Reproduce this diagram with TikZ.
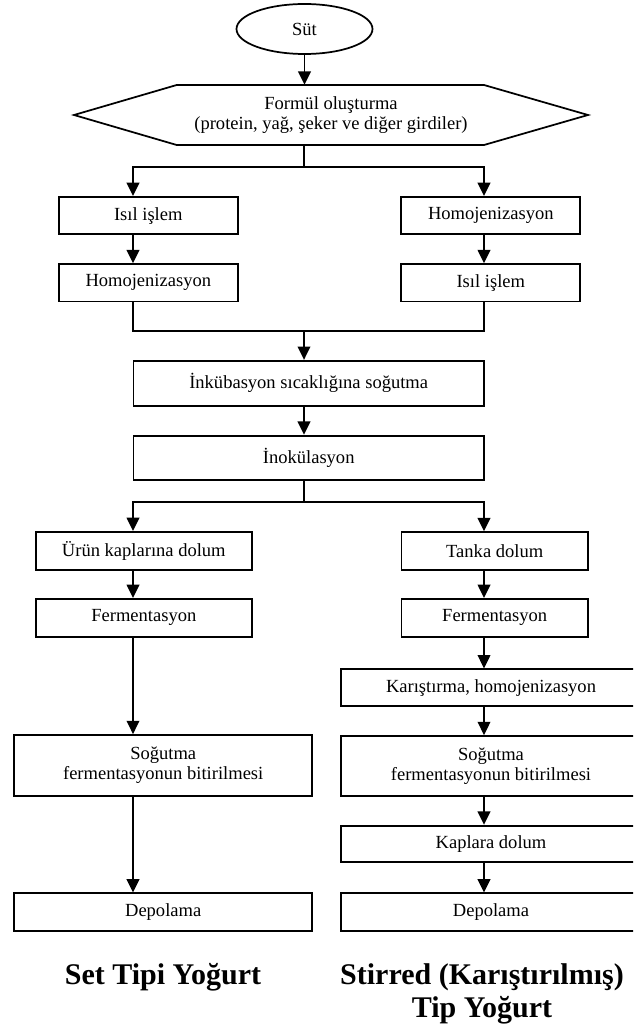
\documentclass[tikz,border=0pt]{standalone}
\usepackage{fontspec}
\setmainfont{Liberation Serif}
\usetikzlibrary{arrows.meta,shapes.geometric}
\tikzset{
  line/.style={line width=1.3pt},
  arr/.style={line width=1.3pt,-{Triangle[length=10pt,width=9.5pt]}},
  box/.style={draw,line width=1.3pt,rectangle,inner sep=0pt,align=center,
    font=\fontsize{13.9pt}{15.5pt}\selectfont},
  oval/.style={draw,line width=1.3pt,ellipse,inner sep=0pt,
    font=\fontsize{13.9pt}{15.5pt}\selectfont},
  plain/.style={inner sep=0pt,align=center,font=\fontsize{13.9pt}{15.5pt}\selectfont},
  title/.style={inner sep=0pt,align=center,font=\fontsize{22.5pt}{24.75pt}\selectfont\bfseries}
}
\begin{document}
\begin{tikzpicture}[x=0.75pt,y=-0.75pt]
\useasboundingbox (0,0) rectangle (633,1034);
\fill[white] (0,0) rectangle (633,1034);
\clip (0,0) rectangle (633,1034);

% nodes
\node[oval,minimum width=102pt,minimum height=37.5pt] (sut) at (304.5,29) {Süt};
\node[plain,minimum width=385.5pt,minimum height=45pt] (hex) at (331,115)
  {Formül oluşturma\\(protein, yağ, şeker ve diğer girdiler)};
\draw[line] (74,115) -- (176.7,85) -- (484,85) -- (588,115) -- (484,145) -- (176.7,145) -- cycle;

\node[box,minimum width=134.25pt,minimum height=28.1pt] (l1) at (148.3,215.6) {Isıl işlem};
\node[box,minimum width=134.25pt,minimum height=28.1pt] (l2) at (148.3,282.8) {Homojenizasyon};
\node[box,minimum width=134.25pt,minimum height=28.1pt] (r1) at (490.8,215.6) {Homojenizasyon};
\node[box,minimum width=134.25pt,minimum height=28.1pt] (r2) at (490.8,282.8) {Isıl işlem};

\node[box,minimum width=263pt,minimum height=33.75pt] (inku) at (308.7,383.2) {İnkübasyon sıcaklığına soğutma};
\node[box,minimum width=263pt,minimum height=33.2pt] (inok) at (308.7,457.8) {İnokülasyon};

\node[box,minimum width=161.8pt,minimum height=28.5pt] (urun) at (143.8,550.8) {Ürün kaplarına dolum};
\node[box,minimum width=161.8pt,minimum height=28.5pt] (lferm) at (143.8,617.8) {Fermentasyon};
\node[box,minimum width=223.7pt,minimum height=45.5pt] (lsog) at (163.2,765.3) {Soğutma\\fermentasyonun bitirilmesi};
\node[box,minimum width=223.7pt,minimum height=28.3pt] (ldep) at (163.2,912.2) {Depolama};

\node[box,minimum width=140pt,minimum height=28.5pt] (tank) at (494.7,551.1) {Tanka dolum};
\node[box,minimum width=140pt,minimum height=28.5pt] (rferm) at (494.7,617.8) {Fermentasyon};
\node[box,minimum width=224.5pt,minimum height=27.5pt] (kar) at (491,687.6) {Karıştırma, homojenizasyon};
\node[box,minimum width=224.5pt,minimum height=45pt] (rsog) at (491,766) {Soğutma\\fermentasyonun bitirilmesi};
\node[box,minimum width=224.5pt,minimum height=27.5pt] (kap) at (491,844) {Kaplara dolum};
\node[box,minimum width=224.5pt,minimum height=28.3pt] (rdep) at (491,912.2) {Depolama};

\node[title] (tset) at (163,977) {Set Tipi Yoğurt};
\node[title] (tstir) at (482,993.5) {Stirred (Karıştırılmış)\\Tip Yoğurt};

% branch coordinates
\coordinate (b1) at (304,167);
\coordinate (b1l) at (133,167);
\coordinate (b1r) at (484,167);
\coordinate (b2) at (304,331);
\coordinate (b2l) at (133,331);
\coordinate (b2r) at (484,331);
\coordinate (b3) at (304,502.3);
\coordinate (b3l) at (133,502.3);
\coordinate (b3r) at (484,502.3);

% connectors
\draw[arr] (sut.south) -- (sut.south |- hex.north);
\draw[line] (b1 |- hex.south) -- (b1);
\draw[arr] (b1) -- (b1l) -- (b1l |- l1.north);
\draw[arr] (b1) -- (b1r) -- (b1r |- r1.north);
\draw[arr] (b1l |- l1.south) -- (b1l |- l2.north);
\draw[arr] (b1r |- r1.south) -- (b1r |- r2.north);
\draw[line] (b1l |- l2.south) -- (b2l) -- (b2r) -- (b1r |- r2.south);
\draw[arr] (b2) -- (b2 |- inku.north);
\draw[arr] (b2 |- inku.south) -- (b2 |- inok.north);
\draw[line] (b3 |- inok.south) -- (b3);
\draw[arr] (b3) -- (b3l) -- (b3l |- urun.north);
\draw[arr] (b3) -- (b3r) -- (b3r |- tank.north);

\draw[arr] (b3l |- urun.south) -- (b3l |- lferm.north);
\draw[arr] (b3l |- lferm.south) -- (b3l |- lsog.north);
\draw[arr] (b3l |- lsog.south) -- (b3l |- ldep.north);

\draw[arr] (b3r |- tank.south) -- (b3r |- rferm.north);
\draw[arr] (b3r |- rferm.south) -- (b3r |- kar.north);
\draw[arr] (b3r |- kar.south) -- (b3r |- rsog.north);
\draw[arr] (b3r |- rsog.south) -- (b3r |- kap.north);
\draw[arr] (b3r |- kap.south) -- (b3r |- rdep.north);
\end{tikzpicture}
\end{document}
